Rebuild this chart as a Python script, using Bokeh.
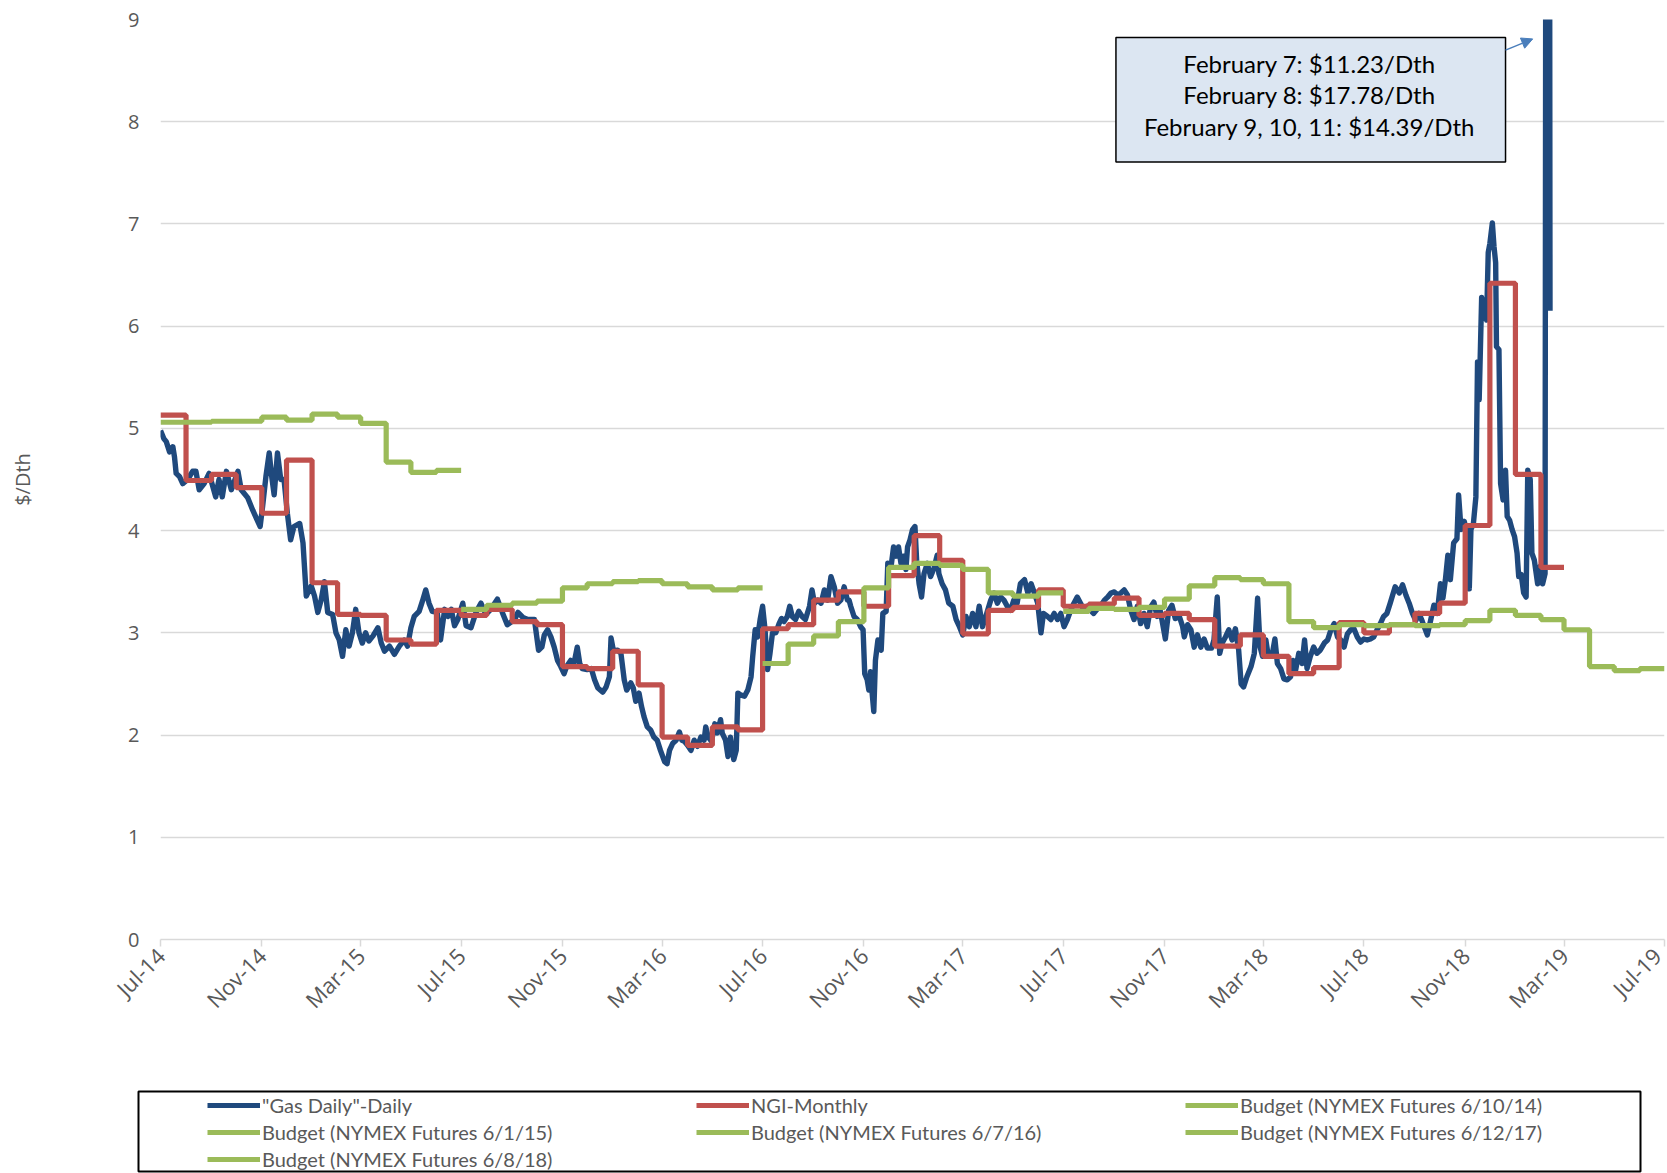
import math
import pandas as pd
from bokeh.plotting import figure
from bokeh.models import (FixedTicker, DatetimeTickFormatter, Range1d, Legend, LegendItem,
                          BoxAnnotation, Label, Arrow, NormalHead)
from bokeh.embed import file_html
from bokeh.resources import INLINE

# ---------------- data ----------------
series_start = "2014-07-01"

# "Gas Daily"-Daily : day offset from 2014-07-01 and $/Dth
gas_day = [
    0, 4, 7, 11, 15, 17, 19, 23, 27, 33,
    39, 43, 47, 53, 59, 67, 71, 75, 80, 86,
    94, 98, 106, 112, 117, 121, 124, 128, 132, 135,
    138, 142, 146, 150, 154, 158, 162, 169, 173, 177,
    183, 187, 191, 195, 199, 203, 209, 213, 217, 221,
    225, 229, 233, 237, 241, 245, 249, 253, 258, 264,
    268, 272, 278, 284, 290, 296, 300, 304, 308, 314,
    318, 322, 326, 330, 336, 340, 345, 349, 353, 357,
    361, 367, 371, 377, 383, 389, 395, 401, 409, 415,
    421, 430, 434, 440, 446,
    454, 459, 463, 466, 470, 474, 478, 482, 486, 490,
    493, 498, 502, 506, 509, 512, 518, 523, 527, 531,
    537, 541, 545, 547, 550, 555, 559, 563, 566, 571,
    574, 577, 581, 584, 587, 591, 595, 599, 603, 607,
    612, 615, 618, 622, 626, 630, 633, 636, 640, 644,
    648, 652, 656, 660, 662, 665, 669, 673, 676, 680,
    682, 686, 689, 692, 696, 699, 701, 705, 709, 713,
    717, 719, 722, 725, 728, 731, 734, 737, 740, 743,
    747, 751, 754, 757, 761, 764, 767, 771, 775, 779,
    783, 788, 791, 794, 798, 802, 806, 810, 814, 818,
    822, 826, 830, 834,
    836, 838, 842, 846, 850, 853, 855, 858, 860, 862,
    864, 866, 868, 871, 875, 877, 881, 883, 887, 890,
    893, 896, 899, 902, 905, 907, 910, 913, 916, 918,
    921, 924, 927, 931, 935, 939, 943, 945, 949, 953,
    957, 962, 966, 970, 974, 978, 982, 986, 990, 994,
    998, 1002, 1008, 1012, 1016, 1020, 1024, 1028, 1032, 1036,
    1040, 1044, 1049, 1053, 1057, 1061, 1065, 1069, 1072, 1077,
    1081, 1085, 1089, 1093, 1097, 1101, 1105, 1109, 1113, 1117,
    1121, 1125, 1129, 1133, 1138, 1142, 1146, 1150, 1154, 1158,
    1162, 1166, 1170, 1174, 1178, 1182, 1186,
    1190, 1194, 1198, 1202, 1206, 1210, 1214, 1220, 1224, 1228,
    1232, 1237, 1241, 1243, 1247, 1251, 1255, 1259, 1263, 1267,
    1271, 1276, 1279, 1283, 1286, 1289, 1293, 1297, 1301, 1305,
    1309, 1312, 1315, 1319, 1324, 1328, 1332, 1335, 1338, 1342,
    1345, 1350, 1353, 1356, 1360, 1364, 1368, 1372, 1375, 1378,
    1382, 1386, 1389, 1392, 1396, 1400, 1404, 1408, 1413, 1417,
    1421, 1425, 1429, 1433, 1437, 1441, 1445, 1449, 1453, 1457,
    1461, 1465, 1469, 1473, 1477, 1481, 1485, 1489,
    1493, 1499, 1504, 1508, 1512, 1516, 1520, 1524, 1528, 1532,
    1538, 1542, 1546, 1550, 1554, 1557, 1560, 1563, 1566, 1570,
    1574, 1576, 1579, 1583, 1586, 1589, 1591, 1594, 1597, 1599,
    1601, 1604, 1607, 1610, 1612, 1614, 1617, 1619, 1621, 1622,
    1625, 1627, 1630, 1633, 1635, 1638, 1641, 1644, 1647, 1649,
    1652, 1655, 1658, 1660, 1663, 1665, 1668, 1672, 1675, 1678,
    1681, 1682, 1683, 1684, 1685, 1686, 1687,
]
gas_value = [
    4.98, 4.90, 4.87, 4.77, 4.82, 4.72, 4.56, 4.53, 4.46, 4.50,
    4.58, 4.58, 4.40, 4.46, 4.56, 4.33, 4.50, 4.33, 4.58, 4.40,
    4.58, 4.40, 4.32, 4.20, 4.11, 4.04, 4.24, 4.53, 4.76, 4.53,
    4.35, 4.76, 4.50, 4.50, 4.17, 3.91, 4.04, 4.07, 3.88, 3.36,
    3.46, 3.36, 3.20, 3.32, 3.50, 3.20, 3.18, 3.00, 2.93, 2.77,
    3.03, 2.87, 3.00, 3.23, 3.00, 2.90, 3.00, 2.92, 2.97, 3.05,
    2.90, 2.82, 2.87, 2.79, 2.87, 2.93, 2.87, 3.05, 3.16, 3.21,
    3.31, 3.42, 3.29, 3.21, 3.20, 2.93, 3.23, 3.16, 3.23, 3.07,
    3.13, 3.29, 3.07, 3.05, 3.20, 3.29, 3.18, 3.23, 3.33, 3.20,
    3.08, 3.13, 3.20, 3.15, 3.13,
    3.13, 2.83, 2.86, 2.98, 3.03, 2.96, 2.86, 2.73, 2.67, 2.60,
    2.67, 2.73, 2.70, 2.86, 2.70, 2.65, 2.64, 2.65, 2.54, 2.46,
    2.42, 2.47, 2.57, 2.95, 2.82, 2.83, 2.80, 2.54, 2.44, 2.51,
    2.46, 2.33, 2.41, 2.28, 2.18, 2.08, 2.05, 1.98, 1.95, 1.85,
    1.74, 1.72, 1.85, 1.92, 1.95, 2.03, 1.95, 1.94, 1.90, 1.85,
    1.95, 1.89, 1.98, 1.95, 2.08, 1.98, 1.94, 2.11, 2.02, 2.15,
    2.02, 1.95, 1.79, 1.98, 1.76, 1.85, 2.41, 2.39, 2.38, 2.44,
    2.57, 2.77, 3.03, 2.96, 3.13, 3.26, 3.03, 2.64, 2.80, 3.00,
    3.00, 3.09, 3.14, 3.11, 3.16, 3.26, 3.16, 3.13, 3.21, 3.16,
    3.13, 3.26, 3.42, 3.29, 3.32, 3.29, 3.42, 3.32, 3.55, 3.45,
    3.29, 3.32, 3.45, 3.32,
    3.32, 3.26, 3.16, 3.13, 3.06, 3.03, 2.60, 2.54, 2.44, 2.62,
    2.41, 2.23, 2.73, 2.93, 2.83, 3.19, 3.21, 3.68, 3.65, 3.84,
    3.75, 3.84, 3.68, 3.75, 3.62, 3.84, 3.91, 4.01, 4.04, 3.71,
    3.48, 3.35, 3.58, 3.68, 3.55, 3.63, 3.76, 3.58, 3.48, 3.42,
    3.29, 3.26, 3.13, 3.06, 2.98, 3.16, 3.06, 3.19, 3.06, 3.26,
    3.06, 3.16, 3.32, 3.39, 3.29, 3.35, 3.32, 3.26, 3.22, 3.32,
    3.29, 3.48, 3.52, 3.39, 3.48, 3.39, 3.29, 3.00, 3.19, 3.16,
    3.13, 3.19, 3.13, 3.19, 3.06, 3.13, 3.22, 3.29, 3.35, 3.29,
    3.22, 3.26, 3.22, 3.19, 3.24, 3.27, 3.32, 3.35, 3.39, 3.40,
    3.37, 3.39, 3.42, 3.37, 3.22, 3.13, 3.26,
    3.09, 3.19, 3.06, 3.25, 3.30, 3.16, 3.21, 2.94, 3.22, 3.27,
    3.14, 3.16, 3.06, 2.96, 3.08, 3.03, 2.86, 2.98, 2.86, 2.94,
    2.85, 2.85, 2.93, 3.35, 2.80, 2.90, 2.96, 3.03, 2.93, 3.04,
    2.83, 2.50, 2.47, 2.57, 2.67, 2.80, 3.34, 2.86, 2.77, 2.93,
    2.77, 2.80, 2.94, 2.70, 2.65, 2.55, 2.54, 2.57, 2.73, 2.63,
    2.80, 2.70, 2.93, 2.65, 2.77, 2.86, 2.80, 2.83, 2.90, 2.93,
    3.03, 3.09, 2.96, 2.93, 2.86, 2.99, 3.03, 3.04, 2.96, 2.91,
    2.94, 2.93, 2.94, 2.96, 3.03, 3.09, 3.16, 3.19,
    3.29, 3.45, 3.39, 3.47, 3.37, 3.29, 3.19, 3.12, 3.19, 3.11,
    2.98, 3.12, 3.27, 3.19, 3.48, 3.34, 3.52, 3.76, 3.52, 3.88,
    3.92, 4.35, 4.01, 4.09, 3.97, 3.43, 4.01, 4.07, 4.33, 5.65,
    5.28, 6.28, 6.13, 6.06, 6.72, 6.81, 7.01, 6.78, 6.62, 5.80,
    5.77, 4.46, 4.30, 4.59, 4.14, 4.10, 4.01, 3.94, 3.78, 3.55,
    3.57, 3.39, 3.35, 4.59, 4.50, 3.78, 3.71, 3.48, 3.65, 3.48,
    3.58, 11.23, 17.78, 14.39, 14.39, 14.39, 6.15,
]

# NGI-Monthly, Jul-14 .. Feb-19
ngi_start = "2014-07-01"
ngi_monthly = [
    5.13, 4.49, 4.55, 4.42, 4.17, 4.69, 3.49, 3.18, 3.17, 2.93, 2.89, 3.22,
    3.17, 3.23, 3.11, 3.08, 2.67, 2.65, 2.82, 2.49, 1.98, 1.90, 2.08, 2.05,
    3.04, 3.08, 3.32, 3.40, 3.26, 3.56, 3.95, 3.71, 2.99, 3.22, 3.25, 3.42,
    3.26, 3.28, 3.34, 3.17, 3.19, 3.13, 2.87, 2.98, 2.77, 2.60, 2.66, 3.10,
    3.00, 3.08, 3.19, 3.29, 4.05, 6.42, 4.55, 3.64,
]

# Budgets (monthly, 12 months each from July)
budget_0614 = [5.06, 5.06, 5.07, 5.07, 5.11, 5.08, 5.14, 5.11, 5.05, 4.67, 4.57, 4.59]
budget_0615 = [3.23, 3.27, 3.29, 3.31, 3.44, 3.48, 3.50, 3.51, 3.48, 3.45, 3.42, 3.44]
budget_0616 = [2.70, 2.89, 2.97, 3.11, 3.44, 3.64, 3.68, 3.66, 3.62, 3.39, 3.36, 3.39]
budget_0617 = [3.21, 3.24, 3.23, 3.25, 3.33, 3.46, 3.54, 3.52, 3.48, 3.11, 3.05, 3.08]
budget_0618 = [3.07, 3.08, 3.07, 3.08, 3.12, 3.22, 3.17, 3.13, 3.03, 2.67, 2.63, 2.65]
budget_starts = ["2014-07-01", "2015-07-01", "2016-07-01", "2017-07-01", "2018-07-01"]
budget_labels = [
    "Budget (NYMEX Futures 6/10/14)",
    "Budget (NYMEX Futures 6/1/15)",
    "Budget (NYMEX Futures 6/7/16)",
    "Budget (NYMEX Futures 6/12/17)",
    "Budget (NYMEX Futures 6/8/18)",
]

x_tick_dates = ["2014-07-01", "2014-11-01", "2015-03-01", "2015-07-01", "2015-11-01",
                "2016-03-01", "2016-07-01", "2016-11-01", "2017-03-01", "2017-07-01",
                "2017-11-01", "2018-03-01", "2018-07-01", "2018-11-01", "2019-03-01",
                "2019-07-01"]
y_ticks = [0, 1, 2, 3, 4, 5, 6, 7, 8, 9]
y_title = "$/Dth"

note_lines = ["February 7: $11.23/Dth",
              "February 8: $17.78/Dth",
              "February 9, 10, 11: $14.39/Dth"]

# ---------------- style ----------------
BLUE = "#1F497D"
RED = "#C0504D"
GREEN = "#9BBB59"
TXT = "#595959"
GRID = "#D9D9D9"
LW = 5.2
W = 1667


def ms(d):
    return pd.Timestamp(d).value / 1e6


p = figure(width=W, height=1090, x_axis_type="datetime", output_backend="svg",
           toolbar_location=None,
           x_range=Range1d(ms("2014-07-01"), ms("2019-07-01")), y_range=Range1d(0, 9),
           min_border_left=160, min_border_right=3, min_border_top=19, min_border_bottom=151)
p.outline_line_color = None
p.background_fill_color = "white"
p.border_fill_color = "white"

yt = FixedTicker(ticks=y_ticks)
p.yaxis.ticker = yt
p.ygrid.ticker = yt
p.xgrid.grid_line_color = None
p.ygrid.grid_line_color = GRID
p.ygrid.grid_line_width = 1.5

p.yaxis.axis_line_color = None
p.yaxis.major_tick_line_color = None
p.yaxis.minor_tick_line_color = None
p.yaxis.major_label_text_font = "Open Sans"
p.yaxis.major_label_text_font_size = "20px"
p.yaxis.major_label_text_color = TXT
p.yaxis.major_label_standoff = 15
p.yaxis.axis_label = y_title
p.yaxis.axis_label_text_font = "Open Sans"
p.yaxis.axis_label_text_font_size = "20px"
p.yaxis.axis_label_text_font_style = "normal"
p.yaxis.axis_label_text_color = TXT
p.yaxis.axis_label_standoff = 89

xt = FixedTicker(ticks=[ms(d) for d in x_tick_dates])
p.xaxis.ticker = xt
fmt = "%b-%y"
p.xaxis.formatter = DatetimeTickFormatter(milliseconds=fmt, seconds=fmt, minsec=fmt, minutes=fmt,
                                          hourmin=fmt, hours=fmt, days=fmt, months=fmt, years=fmt)
p.xaxis.major_label_orientation = math.pi / 4
p.xaxis.axis_line_color = GRID
p.xaxis.axis_line_width = 1.5
p.xaxis.major_tick_line_color = GRID
p.xaxis.major_tick_line_width = 1.5
p.xaxis.major_tick_in = 0
p.xaxis.major_tick_out = 7
p.xaxis.minor_tick_line_color = None
p.xaxis.major_label_text_font = "Open Sans"
p.xaxis.major_label_text_font_size = "22px"
p.xaxis.major_label_text_color = TXT
p.xaxis.major_label_standoff = 5

# series
start = pd.Timestamp(series_start)
gas_dates = start + pd.to_timedelta(gas_day, unit="D")
p.line(gas_dates, gas_value, line_color=BLUE, line_width=5.4, line_join="round")


def step_series(fig, first_month, vals, color):
    months = pd.date_range(first_month, periods=len(vals) + 1, freq="MS")
    return fig.step(months, list(vals) + [vals[-1]], mode="after",
                    line_color=color, line_width=LW)


step_series(p, ngi_start, ngi_monthly, RED)
for s, b in zip(budget_starts, [budget_0614, budget_0615, budget_0616, budget_0617, budget_0618]):
    step_series(p, s, b, GREEN)

# annotation box
p.add_layout(BoxAnnotation(left=ms("2017-09-03"), right=ms("2018-12-20"), bottom=7.607, top=8.824,
                           fill_color="#DCE6F2", fill_alpha=1.0,
                           line_color="black", line_width=1.5, line_alpha=1.0))
for txt, yv in zip(note_lines, [8.574, 8.262, 7.950]):
    p.add_layout(Label(x=ms("2018-04-26"), y=yv, text=txt, text_align="center",
                       text_baseline="middle", text_font="Lato", text_font_size="24px",
                       text_color="black"))
p.add_layout(Arrow(end=NormalHead(size=11, fill_color="#4A7EBB", line_color="#4A7EBB"),
                   x_start=ms("2018-12-20"), y_start=8.70, x_end=ms("2019-01-22"), y_end=8.81,
                   line_color="#4A7EBB", line_width=1.5))

# ---------------- legend panel (separate root, not frame-aligned) ----------------
leg = figure(width=W, height=83, output_backend="svg", toolbar_location=None,
             x_axis_location=None, y_axis_location=None,
             x_range=Range1d(0, 1), y_range=Range1d(0, 1),
             min_border_left=138, min_border_right=27, min_border_top=1, min_border_bottom=2)
leg.xgrid.visible = False
leg.ygrid.visible = False
leg.outline_line_color = "black"
leg.outline_line_width = 2
leg.background_fill_color = "white"

labels = ['"Gas Daily"-Daily', "NGI-Monthly"] + budget_labels
colors = [BLUE, RED] + [GREEN] * len(budget_labels)
items = []
for lab, col in zip(labels, colors):
    # sample line kept outside the visible range; only its legend swatch shows
    r = leg.line(x=[5, 6], y=[5, 5], line_color=col, line_width=LW)
    items.append(LegendItem(label=lab, renderers=[r]))
legend = Legend(items=items, location=(69, 0), orientation="horizontal", ncols=3,
                glyph_width=53, glyph_height=20, label_standoff=2, label_width=431,
                label_height=20, spacing=3, padding=0, margin=0,
                border_line_color=None, background_fill_alpha=0,
                label_text_font="Lato", label_text_font_size="20px",
                label_text_color=TXT)
leg.add_layout(legend)

open("out.html", "w").write(file_html((p, leg), INLINE))
